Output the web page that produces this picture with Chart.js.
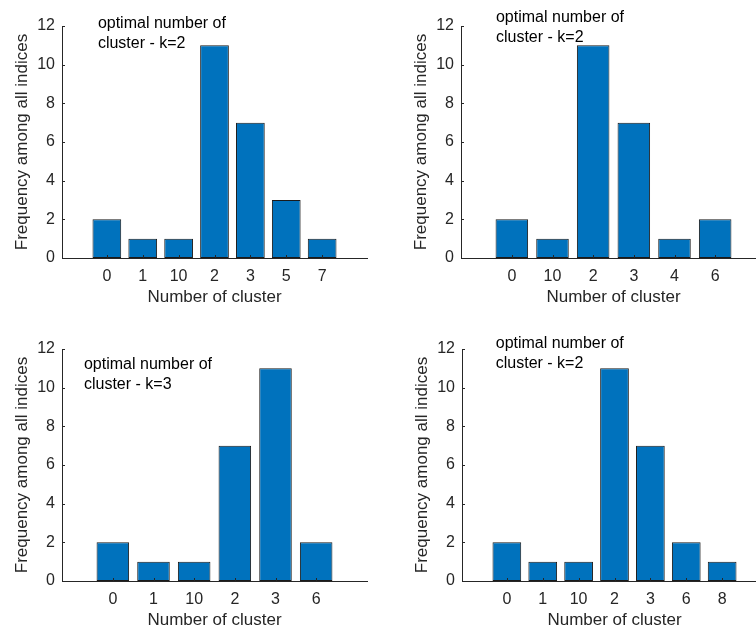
<!DOCTYPE html>
<html>
<head>
<meta charset="utf-8">
<script src="https://cdn.jsdelivr.net/npm/chart.js@4"></script>
<style>
  html, body { margin: 0; padding: 0; background: #fff; }
  #fig { position: relative; width: 756px; height: 634px; overflow: hidden; background: #fff; }
  .panel { position: absolute; width: 420px; height: 320px; }
</style>
</head>
<body>
<div id="fig">
  <div class="panel" style="left:-28px; top:-4px"><canvas id="c1" width="420" height="320"></canvas></div>
  <div class="panel" style="left:371px; top:-4px"><canvas id="c2" width="420" height="320"></canvas></div>
  <div class="panel" style="left:-28px; top:319px"><canvas id="c3" width="420" height="320"></canvas></div>
  <div class="panel" style="left:372px; top:319px"><canvas id="c4" width="420" height="320"></canvas></div>
</div>
<script>
// cluster counts per run
const clustersA = ['0', '1', '10', '2', '3', '5', '7'];
const countsA = [2, 1, 1, 11, 7, 3, 1];
const clustersB = ['0', '10', '2', '3', '4', '6'];
const countsB = [2, 1, 11, 7, 1, 2];
const clustersC = ['0', '1', '10', '2', '3', '6'];
const countsC = [2, 1, 1, 7, 11, 2];
const clustersD = ['0', '1', '10', '2', '3', '6', '8'];
const countsD = [2, 1, 1, 11, 7, 2, 1];
const yTicks = [0, 2, 4, 6, 8, 10, 12];

const FONT = '"Liberation Sans", Arial, Helvetica, sans-serif';
Chart.defaults.font.family = FONT;
Chart.defaults.color = '#262626';

// small tick marks pointing into the axes
const innerTicks = {
    id: 'innerTicks',
    afterDatasetsDraw(chart) {
        const {ctx, scales: {x, y}, chartArea: a} = chart;
        ctx.save();
        ctx.strokeStyle = '#262626';
        ctx.lineWidth = 1;
        ctx.beginPath();
        y.ticks.forEach(t => {
            const py = Math.round(y.getPixelForValue(t.value)) + 0.5;
            ctx.moveTo(a.left, py);
            ctx.lineTo(a.left + 3, py);
        });
        x.ticks.forEach(t => {
            const px = Math.round(x.getPixelForValue(t.value)) + 0.5;
            ctx.moveTo(px, a.bottom);
            ctx.lineTo(px, a.bottom - 3);
        });
        ctx.stroke();
        ctx.restore();
    }
};

// two-line note placed in data units
const noteText = {
    id: 'noteText',
    afterDraw(chart, args, opts) {
        const {ctx, scales: {x, y}} = chart;
        ctx.save();
        ctx.font = '16px ' + FONT;
        ctx.fillStyle = '#000';
        ctx.textBaseline = 'middle';
        const px = x.getPixelForValue(opts.at[0]);
        const py = y.getPixelForValue(opts.at[1]);
        opts.lines.forEach((line, i) => ctx.fillText(line, px, py + i * 20));
        ctx.restore();
    }
};

function drawPanel(id, clusters, counts, note, at) {
    const ctx = document.getElementById(id).getContext('2d');
    return new Chart(ctx, {
        type: 'bar',
        data: {
            datasets: [{
                data: counts.map((v, i) => ({x: i + 1, y: v})),
                backgroundColor: '#0072BD',
                borderColor: '#1a1a1a',
                borderWidth: 1,
                borderSkipped: false,
                barPercentage: 0.8,
                categoryPercentage: 1.0
            }]
        },
        options: {
            responsive: false,
            animation: false,
            layout: {padding: {top: 30, right: 25, bottom: 0, left: 0}},
            plugins: {
                legend: {display: false},
                tooltip: {enabled: false},
                noteText: {lines: ['optimal number of', note], at: at}
            },
            scales: {
                x: {
                    type: 'linear',
                    offset: false,
                    min: -0.25,
                    max: clusters.length + 1.25,
                    afterBuildTicks: axis => { axis.ticks = clusters.map((c, i) => ({value: i + 1})); },
                    afterFit: axis => { axis.height = 58; },
                    ticks: {
                        padding: 9,
                        font: {size: 16},
                        color: '#262626',
                        maxRotation: 0,
                        autoSkip: false,
                        callback: v => clusters[v - 1]
                    },
                    grid: {display: false, drawTicks: false},
                    border: {display: true, color: '#262626', width: 1},
                    title: {
                        display: true,
                        text: 'Number of cluster',
                        font: {size: 17},
                        color: '#262626',
                        padding: {top: 0, bottom: 8}
                    }
                },
                y: {
                    min: 0,
                    max: 12,
                    afterBuildTicks: axis => { axis.ticks = yTicks.map(v => ({value: v})); },
                    afterFit: axis => { axis.width = 90; },
                    ticks: {
                        padding: 7,
                        font: {size: 16},
                        color: '#262626'
                    },
                    grid: {display: false, drawTicks: false},
                    border: {display: true, color: '#262626', width: 1},
                    title: {
                        display: true,
                        text: 'Frequency among all indices',
                        font: {size: 17},
                        color: '#262626',
                        padding: {top: 40, bottom: 0}
                    }
                }
            }
        },
        plugins: [innerTicks, noteText]
    });
}

drawPanel('c1', clustersA, countsA, 'cluster - k=2', [0.75, 12.15]);
drawPanel('c2', clustersB, countsB, 'cluster - k=2', [0.61, 12.45]);
drawPanel('c3', clustersC, countsC, 'cluster - k=3', [0.29, 11.2]);
drawPanel('c4', clustersD, countsD, 'cluster - k=2', [0.69, 12.3]);
</script>
</body>
</html>
